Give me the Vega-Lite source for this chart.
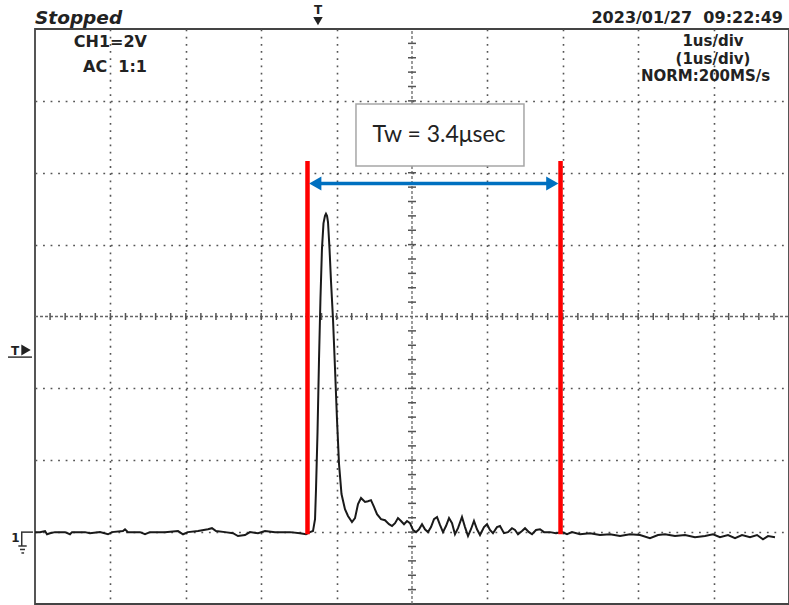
{
  "$schema": "https://vega.github.io/schema/vega-lite/v6.json",
  "width": 754,
  "height": 575,
  "autosize": {"type": "none"},
  "padding": {"left": 35, "top": 29, "right": 0, "bottom": 1},
  "background": "white",
  "config": {"view": {"stroke": "#444", "strokeWidth": 1.8}, "font": "DejaVu Sans"},
  "datasets": {
    "wave": [
      {"t":0,"v":0},{"t":0.066,"v":0},{"t":0.133,"v":0.03},{"t":0.159,"v":-0.06},{"t":0.199,"v":-0.03},
      {"t":0.265,"v":0},{"t":0.398,"v":0},{"t":0.464,"v":-0.06},{"t":0.491,"v":0},{"t":0.663,"v":0},
      {"t":0.729,"v":-0.03},{"t":0.862,"v":0},{"t":0.968,"v":-0.06},{"t":1.021,"v":0},{"t":1.167,"v":0.03},
      {"t":1.194,"v":0.08},{"t":1.233,"v":0},{"t":1.393,"v":0},{"t":1.459,"v":-0.06},{"t":1.525,"v":0},
      {"t":1.724,"v":0},{"t":1.897,"v":0.03},{"t":1.963,"v":-0.06},{"t":2.029,"v":0},{"t":2.162,"v":0.03},
      {"t":2.294,"v":0.08},{"t":2.347,"v":0.11},{"t":2.401,"v":0.03},{"t":2.52,"v":0},{"t":2.626,"v":-0.03},
      {"t":2.692,"v":-0.11},{"t":2.785,"v":-0.08},{"t":2.851,"v":0},{"t":2.958,"v":-0.03},{"t":3.05,"v":0.03},
      {"t":3.183,"v":0},{"t":3.382,"v":0},{"t":3.515,"v":-0.03},{"t":3.594,"v":-0.06},{"t":3.647,"v":0},
      {"t":3.687,"v":0.03},{"t":3.714,"v":0.36},{"t":3.727,"v":1.2},{"t":3.747,"v":2.79},{"t":3.767,"v":4.83},
      {"t":3.786,"v":6.5},{"t":3.806,"v":7.89},{"t":3.826,"v":8.59},{"t":3.846,"v":8.8},{"t":3.859,"v":8.86},
      {"t":3.873,"v":8.8},{"t":3.886,"v":8.63},{"t":3.906,"v":7.89},{"t":3.926,"v":6.97},{"t":3.952,"v":5.94},
      {"t":3.979,"v":4.55},{"t":4.005,"v":3.15},{"t":4.032,"v":1.9},{"t":4.065,"v":1.06},{"t":4.111,"v":0.64},
      {"t":4.151,"v":0.45},{"t":4.204,"v":0.28},{"t":4.244,"v":0.39},{"t":4.284,"v":0.78},{"t":4.324,"v":0.95},
      {"t":4.377,"v":0.84},{"t":4.416,"v":0.86},{"t":4.456,"v":0.89},{"t":4.496,"v":0.7},{"t":4.536,"v":0.5},
      {"t":4.589,"v":0.36},{"t":4.642,"v":0.33},{"t":4.695,"v":0.22},{"t":4.735,"v":0.17},{"t":4.775,"v":0.25},
      {"t":4.814,"v":0.39},{"t":4.854,"v":0.31},{"t":4.894,"v":0.22},{"t":4.934,"v":0.31},{"t":4.973,"v":0.25},
      {"t":5.013,"v":0.06},{"t":5.053,"v":0},{"t":5.093,"v":0.08},{"t":5.133,"v":0.22},{"t":5.172,"v":0.08},
      {"t":5.212,"v":0},{"t":5.252,"v":0.14},{"t":5.292,"v":0.36},{"t":5.332,"v":0.42},{"t":5.371,"v":0.2},
      {"t":5.411,"v":0},{"t":5.451,"v":0.17},{"t":5.491,"v":0.39},{"t":5.531,"v":0.25},{"t":5.57,"v":-0.06},
      {"t":5.61,"v":0.11},{"t":5.663,"v":0.42},{"t":5.703,"v":0.14},{"t":5.743,"v":-0.11},{"t":5.782,"v":0.08},
      {"t":5.822,"v":0.31},{"t":5.862,"v":0.08},{"t":5.902,"v":-0.08},{"t":5.955,"v":0.14},{"t":5.995,"v":0.22},
      {"t":6.034,"v":0.06},{"t":6.074,"v":-0.03},{"t":6.127,"v":0.14},{"t":6.167,"v":0.17},{"t":6.22,"v":-0.03},
      {"t":6.273,"v":0},{"t":6.326,"v":0.11},{"t":6.366,"v":0.06},{"t":6.406,"v":-0.06},{"t":6.459,"v":0.03},
      {"t":6.499,"v":0.11},{"t":6.552,"v":0},{"t":6.592,"v":-0.06},{"t":6.645,"v":0.06},{"t":6.698,"v":0.08},
      {"t":6.751,"v":0},{"t":6.83,"v":0},{"t":6.91,"v":-0.03},{"t":6.989,"v":0},{"t":7.056,"v":-0.06},
      {"t":7.122,"v":0},{"t":7.228,"v":-0.06},{"t":7.361,"v":-0.03},{"t":7.493,"v":-0.08},{"t":7.626,"v":-0.06},
      {"t":7.759,"v":-0.11},{"t":7.891,"v":-0.06},{"t":8.024,"v":-0.08},{"t":8.156,"v":-0.17},{"t":8.263,"v":-0.08},
      {"t":8.355,"v":-0.06},{"t":8.488,"v":-0.11},{"t":8.621,"v":-0.08},{"t":8.753,"v":-0.14},{"t":8.886,"v":-0.11},
      {"t":8.992,"v":-0.06},{"t":9.085,"v":-0.14},{"t":9.191,"v":-0.08},{"t":9.284,"v":-0.17},{"t":9.377,"v":-0.08},
      {"t":9.483,"v":-0.14},{"t":9.576,"v":-0.08},{"t":9.655,"v":-0.2},{"t":9.722,"v":-0.11},{"t":9.814,"v":-0.14}
    ],
    "ticksH": [
      {"t":0.2,"v":6},{"t":0.4,"v":6},{"t":0.6,"v":6},{"t":0.8,"v":6},{"t":1,"v":6},{"t":1.2,"v":6},{"t":1.4,"v":6},{"t":1.6,"v":6},{"t":1.8,"v":6},{"t":2,"v":6},
      {"t":2.2,"v":6},{"t":2.4,"v":6},{"t":2.6,"v":6},{"t":2.8,"v":6},{"t":3,"v":6},{"t":3.2,"v":6},{"t":3.4,"v":6},{"t":3.6,"v":6},{"t":3.8,"v":6},{"t":4,"v":6},
      {"t":4.2,"v":6},{"t":4.4,"v":6},{"t":4.6,"v":6},{"t":4.8,"v":6},{"t":5.2,"v":6},{"t":5.4,"v":6},{"t":5.6,"v":6},{"t":5.8,"v":6},{"t":6,"v":6},
      {"t":6.2,"v":6},{"t":6.4,"v":6},{"t":6.6,"v":6},{"t":6.8,"v":6},{"t":7,"v":6},{"t":7.2,"v":6},{"t":7.4,"v":6},{"t":7.6,"v":6},{"t":7.8,"v":6},{"t":8,"v":6},
      {"t":8.2,"v":6},{"t":8.4,"v":6},{"t":8.6,"v":6},{"t":8.8,"v":6},{"t":9,"v":6},{"t":9.2,"v":6},{"t":9.4,"v":6},{"t":9.6,"v":6},{"t":9.8,"v":6}
    ],
    "ticksV": [
      {"t":5,"v":-1.6},{"t":5,"v":-1.2},{"t":5,"v":-0.8},{"t":5,"v":-0.4},{"t":5,"v":0},{"t":5,"v":0.4},{"t":5,"v":0.8},{"t":5,"v":1.2},{"t":5,"v":1.6},{"t":5,"v":2},
      {"t":5,"v":2.4},{"t":5,"v":2.8},{"t":5,"v":3.2},{"t":5,"v":3.6},{"t":5,"v":4},{"t":5,"v":4.4},{"t":5,"v":4.8},{"t":5,"v":5.2},{"t":5,"v":5.6},
      {"t":5,"v":6.4},{"t":5,"v":6.8},{"t":5,"v":7.2},{"t":5,"v":7.6},{"t":5,"v":8},{"t":5,"v":8.4},{"t":5,"v":8.8},{"t":5,"v":9.2},{"t":5,"v":9.6},{"t":5,"v":10},
      {"t":5,"v":10.4},{"t":5,"v":10.8},{"t":5,"v":11.2},{"t":5,"v":11.6},{"t":5,"v":12},{"t":5,"v":12.4},{"t":5,"v":12.8},{"t":5,"v":13.2},{"t":5,"v":13.6}
    ],
    "strokes": [
      {"t":-0.358,"t2":-0.04,"v":4.87,"v2":4.87},
      {"t":-0.186,"t2":-0.027,"v":0,"v2":0},
      {"t":-0.176,"t2":-0.176,"v":0,"v2":-0.386},
      {"t":-0.221,"t2":-0.11,"v":-0.386,"v2":-0.386},
      {"t":-0.199,"t2":-0.133,"v":-0.483,"v2":-0.483},
      {"t":-0.18,"t2":-0.145,"v":-0.58,"v2":-0.58}
    ]
  },
  "encoding": {
    "x": {"field": "t", "type": "quantitative",
      "scale": {"domain": [0, 10], "nice": false, "zero": false},
      "axis": {"values": [1,2,3,4,6,7,8,9], "grid": true, "gridColor": "#555", "gridDash": [1.8, 5.39], "gridWidth": 1.6,
        "labels": false, "ticks": false, "domain": false, "title": null}},
    "y": {"field": "v", "type": "quantitative",
      "scale": {"domain": [-2, 14], "nice": false, "zero": false},
      "axis": {"values": [0,2,4,8,10,12], "grid": true, "gridColor": "#555", "gridDash": [1.8, 5.74], "gridWidth": 1.6,
        "labels": false, "ticks": false, "domain": false, "title": null}}
  },
  "layer": [
    {"data": {"values": [{"t": 0, "v": 6}]}, "mark": {"type": "rule", "color": "#666", "strokeWidth": 1.3, "strokeDash": [3, 2]},
     "encoding": {"x": {"field": "t", "type": "quantitative"}, "x2": {"datum": 10}}},
    {"data": {"values": [{"t": 5, "v": -2}]}, "mark": {"type": "rule", "color": "#666", "strokeWidth": 1.3, "strokeDash": [3, 2]},
     "encoding": {"y2": {"datum": 14}}},
    {"data": {"name": "ticksH"}, "mark": {"type": "tick", "orient": "vertical", "size": 7, "thickness": 1.5, "color": "#555", "opacity": 1}},
    {"data": {"name": "ticksV"}, "mark": {"type": "tick", "orient": "horizontal", "size": 8, "thickness": 1.5, "color": "#555", "opacity": 1}},
    {"data": {"name": "wave"}, "mark": {"type": "line", "color": "#1a1a1a", "strokeWidth": 2}},
    {"data": {"values": [{"t": 3.614, "v": 10.33, "v2": -0.06}, {"t": 6.97, "v": 10.33, "v2": -0.06}]},
     "mark": {"type": "rule", "color": "#ff0000", "strokeWidth": 4.5},
     "encoding": {"y2": {"field": "v2"}}},
    {"data": {"values": [{"t": 3.69, "t2": 6.89, "v": 9.7}]},
     "mark": {"type": "rule", "color": "#0070c0", "strokeWidth": 3.5},
     "encoding": {"x2": {"field": "t2"}}},
    {"data": {"values": [{"t": 3.717, "v": 9.7}]},
     "mark": {"type": "point", "shape": "triangle-left", "filled": true, "size": 200, "color": "#0070c0", "opacity": 1}},
    {"data": {"values": [{"t": 6.861, "v": 9.7}]},
     "mark": {"type": "point", "shape": "triangle-right", "filled": true, "size": 200, "color": "#0070c0", "opacity": 1}},
    {"data": {"values": [{"t": 4.257, "t2": 6.485, "v": 11.913, "v2": 10.188}]},
     "mark": {"type": "rect", "fill": "white", "stroke": "#a6a6a6", "strokeWidth": 1.5},
     "encoding": {"x2": {"field": "t2"}, "y2": {"field": "v2"}}},
    {"data": {"values": [{"t": 5.358, "v": 10.864, "label": "Tw = 3.4μsec"}]},
     "mark": {"type": "text", "font": "Lato", "fontSize": 23, "color": "#222", "align": "center", "baseline": "alphabetic"},
     "encoding": {"text": {"field": "label"}}},
    {"data": {"values": [{"t": 0, "v": 14.14, "label": "Stopped"}]},
     "mark": {"type": "text", "font": "DejaVu Sans", "fontSize": 18.5, "fontWeight": "bold", "fontStyle": "italic", "color": "#222", "align": "left", "baseline": "alphabetic"},
     "encoding": {"text": {"field": "label"}}},
    {"data": {"values": [
       {"t": 9.92, "v": 14.16, "label": "2023/01/27\u00a0\u00a009:22:49"},
       {"t": 1.485, "v": 13.51, "label": "CH1=2V"},
       {"t": 1.485, "v": 12.81, "label": "AC\u00a0\u00a01:1"}]},
     "mark": {"type": "text", "font": "DejaVu Sans", "fontSize": 16, "fontWeight": "bold", "color": "#222", "align": "right", "baseline": "alphabetic"},
     "encoding": {"text": {"field": "label"}}},
    {"data": {"values": [
       {"t": 8.992, "v": 13.53, "label": "1us/div"},
       {"t": 8.992, "v": 13.04, "label": "(1us/div)"},
       {"t": 8.893, "v": 12.54, "label": "NORM:200MS/s"}]},
     "mark": {"type": "text", "font": "DejaVu Sans", "fontSize": 15, "fontWeight": "bold", "color": "#222", "align": "center", "baseline": "alphabetic"},
     "encoding": {"text": {"field": "label"}}},
    {"data": {"values": [
       {"t": 3.753, "v": 14.42, "label": "T"},
       {"t": -0.265, "v": 4.93, "label": "T"},
       {"t": -0.259, "v": -0.275, "label": "1"}]},
     "mark": {"type": "text", "font": "DejaVu Sans", "fontSize": 12, "fontWeight": "bold", "color": "#222", "align": "center", "baseline": "alphabetic"},
     "encoding": {"text": {"field": "label"}}},
    {"data": {"values": [{"t": 3.753, "v": 14.22}]},
     "mark": {"type": "point", "shape": "triangle-down", "filled": true, "size": 90, "color": "#222", "opacity": 1}},
    {"data": {"values": [{"t": -0.119, "v": 5.07}]},
     "mark": {"type": "point", "shape": "triangle-right", "filled": true, "size": 120, "color": "#222", "opacity": 1}},
    {"data": {"name": "strokes"},
     "mark": {"type": "rule", "color": "#333", "strokeWidth": 1.5},
     "encoding": {"x2": {"field": "t2"}, "y2": {"field": "v2"}}}
  ]
}
